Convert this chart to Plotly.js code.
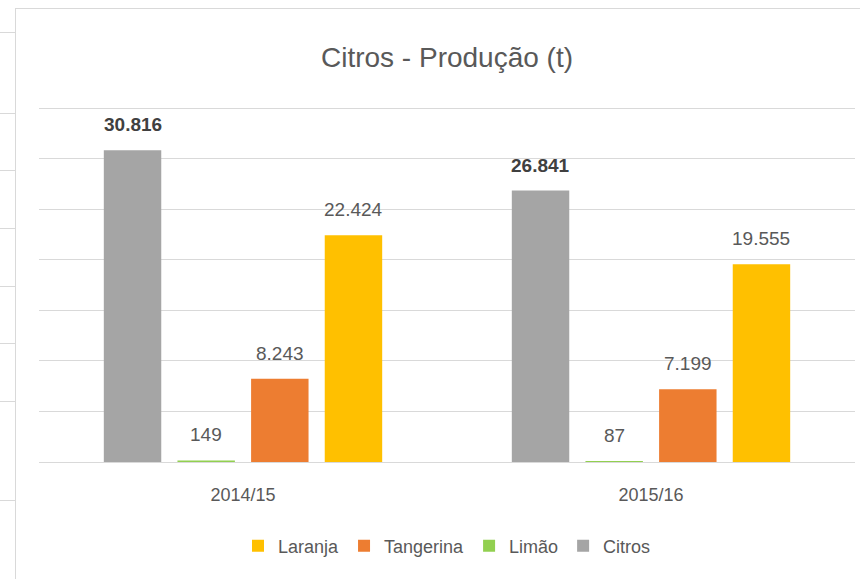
<!DOCTYPE html>
<html>
<head>
<meta charset="utf-8">
<script src="https://cdn.plot.ly/plotly-3.0.1.min.js"></script>
<style>
  html, body { margin: 0; padding: 0; background: #ffffff; width: 860px; height: 579px; overflow: hidden; }
  #strip { position: absolute; left: 0; top: 0; width: 15px; height: 579px; }
  .hl { position: absolute; left: 0; width: 15px; height: 1px; background: #d9d9d9; }
  #frame { position: absolute; left: 15px; top: 8px; width: 860px; height: 590px; border: 1px solid #d9d9d9; box-sizing: border-box; background: #ffffff; }
  #chart { position: absolute; left: 16px; top: 9px; width: 844px; height: 570px; }
</style>
</head>
<body>
<div id="strip"></div>
<div id="frame"></div>
<div id="chart"></div>
<script>
// Data
const categories = ['2014/15', '2015/16'];
const seriesNames = ['Citros', 'Limão', 'Tangerina', 'Laranja'];
const citros = [30816, 26841];
const limao = [149, 87];
const tangerina = [8243, 7199];
const laranja = [22424, 19555];
const labelsCitros = ['30.816', '26.841'];
const labelsLimao = ['149', '87'];
const labelsTangerina = ['8.243', '7.199'];
const labelsLaranja = ['22.424', '19.555'];

// Decorative spreadsheet gridlines in the left strip
const stripLines = [32, 113, 170, 228, 286, 343, 401, 500];
const strip = document.getElementById('strip');
stripLines.forEach(function (y) {
  const d = document.createElement('div');
  d.className = 'hl';
  d.style.top = y + 'px';
  strip.appendChild(d);
});

const colors = ['#A5A5A5', '#92D050', '#ED7D31', '#FFC000'];
const values = [citros, limao, tangerina, laranja];
const labels = [labelsCitros, labelsLimao, labelsTangerina, labelsLaranja];
const fontFamily = '"Liberation Sans", Arial, sans-serif';
const bargap = 0.278;

const traces = seriesNames.map(function (name, j) {
  return {
    type: 'bar',
    name: name,
    x: categories,
    y: values[j],
    marker: { color: colors[j] },
    hoverinfo: 'none'
  };
});

const annotations = [];
seriesNames.forEach(function (name, j) {
  categories.forEach(function (cat, i) {
    const slot = (1 - bargap) / seriesNames.length;
    annotations.push({
      xref: 'x', yref: 'y',
      x: i + (j - (seriesNames.length - 1) / 2) * slot,
      y: values[j][i],
      yanchor: 'bottom',
      yshift: 13,
      showarrow: false,
      text: j === 0 ? '<b>' + labels[j][i] + '</b>' : labels[j][i],
      font: { family: fontFamily, size: 19, color: j === 0 ? '#404040' : '#595959' }
    });
  });
});

const layout = {
  width: 844,
  height: 570,
  margin: { l: 23, r: 5, t: 94, b: 117 },
  paper_bgcolor: 'rgba(0,0,0,0)',
  plot_bgcolor: 'rgba(0,0,0,0)',
  barmode: 'group',
  bargap: bargap,
  bargroupgap: 0.22,
  title: {
    text: 'Citros - Produção (t)',
    font: { family: fontFamily, size: 28, color: '#595959' },
    x: 0.5, xref: 'paper',
    y: 1 - 48 / 570, yref: 'container', yanchor: 'middle'
  },
  xaxis: {
    type: 'category',
    showgrid: false,
    showline: true,
    linecolor: '#d9d9d9',
    linewidth: 1,
    ticks: '',
    ticklabelstandoff: 16,
    tickfont: { family: fontFamily, size: 18, color: '#595959' }
  },
  yaxis: {
    range: [0, 35500],
    tickvals: [0, 5000, 10000, 15000, 20000, 25000, 30000, 35000],
    showgrid: true,
    gridcolor: '#d9d9d9',
    gridwidth: 1,
    zeroline: false,
    showticklabels: false,
    ticks: ''
  },
  showlegend: true,
  legend: {
    orientation: 'h',
    traceorder: 'reversed',
    x: 0.5, xanchor: 'center',
    y: -0.234, yanchor: 'middle',
    font: { family: fontFamily, size: 18, color: '#595959' },
    itemclick: false
  },
  annotations: annotations
};

Plotly.newPlot('chart', traces, layout, { displayModeBar: false, staticPlot: true });
</script>
</body>
</html>
